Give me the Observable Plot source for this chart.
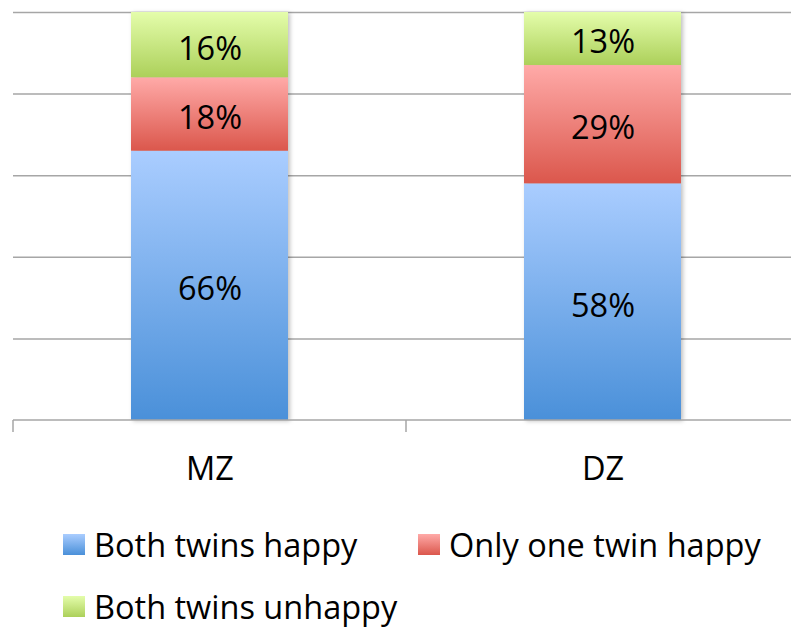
<!DOCTYPE html>
<html>
<head>
<meta charset="utf-8">
<script src="https://cdn.jsdelivr.net/npm/d3@7"></script>
<script src="https://cdn.jsdelivr.net/npm/@observablehq/plot@0.6"></script>
<style>
  html, body { margin: 0; padding: 0; background: #fff; overflow: hidden; }
  #wrap { position: relative; width: 791px; height: 627px; overflow: hidden; font-family: "Open Sans", sans-serif; }
  #chart { position: absolute; left: 0; top: 0; width: 800px; }
  #chart svg { max-width: none !important; }
  #chart g[aria-label="bar"] { filter: drop-shadow(2px 1px 2px rgba(0,0,0,0.25)); }
  .leg { position: absolute; display: flex; align-items: center; font-size: 32.5px; color: #000; white-space: nowrap; }
  .sw { width: 22px; height: 21px; margin-right: 9px; }
</style>
</head>
<body>
<svg width="0" height="0" style="position:absolute">
  <defs>
    <linearGradient id="gBlue" x1="0" y1="0" x2="0" y2="1">
      <stop offset="0" stop-color="#aacdff"/>
      <stop offset="1" stop-color="#4a90d9"/>
    </linearGradient>
    <linearGradient id="gRed" x1="0" y1="0" x2="0" y2="1">
      <stop offset="0" stop-color="#ffaaa8"/>
      <stop offset="1" stop-color="#db574c"/>
    </linearGradient>
    <linearGradient id="gGreen" x1="0" y1="0" x2="0" y2="1">
      <stop offset="0" stop-color="#e4fdab"/>
      <stop offset="1" stop-color="#acd05a"/>
    </linearGradient>
  </defs>
</svg>
<div id="wrap">
  <div id="chart"></div>
</div>
<script>
const categories = ["MZ", "DZ"];
const seriesNames = ["Both twins happy", "Only one twin happy", "Both twins unhappy"];
const bothHappy = [66, 58];
const oneHappy = [18, 29];
const bothUnhappy = [16, 13];
const yTicks = [0, 20, 40, 60, 80, 100];
const seriesFills = ["url(#gBlue)", "url(#gRed)", "url(#gGreen)"];
const swatchCss = [
  "linear-gradient(#aacdff, #4a90d9)",
  "linear-gradient(#ffaaa8, #db574c)",
  "linear-gradient(#e4fdab, #acd05a)"
];

const seriesValues = [bothHappy, oneHappy, bothUnhappy];
const data = [];
seriesNames.forEach((s, si) => {
  categories.forEach((c, ci) => {
    data.push({category: c, series: s, value: seriesValues[si][ci]});
  });
});

const width = 800;
const height = 500;

const boundaryTicks = (index, scales, values, dims) => {
  const x = scales.x;
  const step = x.step();
  const bw = x.bandwidth();
  const gap = (step - bw) / 2;
  const xs = [x(categories[0]) - gap];
  categories.forEach(c => xs.push(x(c) + bw + gap));
  const y0 = scales.y(0);
  const g = d3.create("svg:g");
  g.append("line")
    .attr("x1", xs[0]).attr("x2", xs[xs.length - 1])
    .attr("y1", y0).attr("y2", y0)
    .attr("stroke", "#a6a6a6").attr("stroke-width", 1.5);
  xs.forEach(v => {
    g.append("line")
      .attr("x1", v).attr("x2", v)
      .attr("y1", y0).attr("y2", y0 + 12)
      .attr("stroke", "#a6a6a6").attr("stroke-width", 1.5);
  });
  return g.node();
};

const chart = Plot.plot({
  width,
  height,
  marginTop: 12,
  marginBottom: 80,
  marginLeft: 13,
  marginRight: 0,
  style: {fontFamily: "'Open Sans', sans-serif", background: "transparent", overflow: "visible", maxWidth: "none"},
  x: {domain: categories, paddingInner: 0.6, paddingOuter: 0.3, label: null},
  y: {domain: [0, 100], label: null, axis: null},
  color: {domain: seriesNames, range: seriesFills},
  marks: [
    Plot.ruleY(yTicks.filter(d => d > 0), {stroke: "#a6a6a6", strokeWidth: 1.5}),
    Plot.barY(data, Plot.stackY({order: seriesNames, x: "category", y: "value", z: "series", fill: "series"})),
    Plot.text(data, Plot.stackY({order: seriesNames, x: "category", y: "value", z: "series", text: d => d.value + "%", fontSize: 32.5, fill: "#000", dy: 4})),
    boundaryTicks,
    Plot.axisX({tickSize: 0, tickPadding: 36, fontSize: 32.5, fill: "#000"}),
  ]
});
document.getElementById("chart").appendChild(chart);

const legendPos = [[63, 545], [418, 545], [63, 607]];
const wrap = document.getElementById("wrap");
seriesNames.forEach((s, i) => {
  const d = document.createElement("div");
  d.className = "leg";
  d.style.left = legendPos[i][0] + "px";
  d.style.top = (legendPos[i][1] - 21) + "px";
  d.style.height = "40px";
  const sw = document.createElement("div");
  sw.className = "sw";
  sw.style.background = swatchCss[i];
  const t = document.createElement("span");
  t.textContent = s;
  d.appendChild(sw);
  d.appendChild(t);
  wrap.appendChild(d);
});
</script>
</body>
</html>
